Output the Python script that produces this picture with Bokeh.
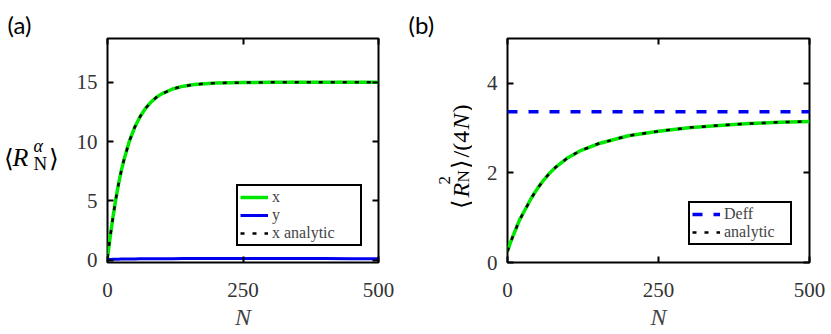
import math
from bokeh.plotting import figure
from bokeh.layouts import row
from bokeh.models import LinearAxis, Legend, LegendItem, Range1d, FixedTicker, Title
from bokeh.core.properties import value
from bokeh.embed import file_html
from bokeh.resources import INLINE

# ---------------- data ----------------
# panel (a)
N_a = [0, 5, 10, 15, 20, 25, 30, 40, 50, 60, 70, 80, 90, 100, 120, 140, 160, 180, 200,
       250, 300, 350, 400, 450, 500]
x_sim = [0.2, 2.0, 3.6, 5.05, 6.33, 7.44, 8.4, 9.99, 11.19, 12.1, 12.8, 13.32, 13.73, 14.03,
         14.44, 14.68, 14.81, 14.89, 14.94, 14.98, 15.0, 15.0, 15.0, 15.0, 15.0]
y_sim = [0.05, 0.06, 0.07, 0.08, 0.08, 0.09, 0.09, 0.10, 0.10, 0.11, 0.11, 0.11, 0.12, 0.12,
         0.12, 0.13, 0.13, 0.13, 0.13, 0.14, 0.14, 0.13, 0.13, 0.12, 0.12]
x_analytic = [0.2, 2.0, 3.6, 5.05, 6.33, 7.44, 8.4, 9.99, 11.19, 12.1, 12.8, 13.32, 13.73, 14.03,
              14.44, 14.68, 14.81, 14.89, 14.94, 14.98, 15.0, 15.0, 15.0, 15.0, 15.0]
xticks_a = [0, 250, 500]
yticks_a = [0, 5, 10, 15]

# panel (b)
N_b = [0, 5, 10, 20, 30, 40, 50, 60, 70, 80, 100, 120, 150, 200, 250, 300, 350, 400, 450, 500]
r2_sim = [0.25, 0.45, 0.62, 0.95, 1.20, 1.45, 1.66, 1.84, 2.00, 2.13, 2.34, 2.49, 2.65, 2.83,
          2.93, 3.01, 3.06, 3.10, 3.13, 3.15]
r2_analytic = [0.25, 0.45, 0.62, 0.95, 1.20, 1.45, 1.66, 1.84, 2.00, 2.13, 2.34, 2.49, 2.65, 2.83,
               2.93, 3.01, 3.06, 3.10, 3.13, 3.15]
N_deff = [0, 500]
D_eff = [3.365, 3.365]
xticks_b = [0, 250, 500]
yticks_b = [0, 2, 4]

GREEN = "#00e800"
BLUE = "#0000f0"
SERIF = "Liberation Serif"
SANS = "Lato"
H = 334
TOP, BOTTOM = 38, 72          # frame borders shared by all plots of the row


def style(p, xt, yt):
    p.xgrid.visible = False
    p.ygrid.visible = False
    p.outline_line_color = "black"
    p.outline_line_width = 2
    for ax in (p.xaxis[0], p.yaxis[0]):
        ax.axis_line_color = None
        ax.major_tick_in = 6
        ax.major_tick_out = 0
        ax.major_tick_line_width = 2
        ax.minor_tick_line_color = None
        ax.major_label_text_font = SERIF
        ax.major_label_text_font_size = "21px"
        ax.major_label_text_color = "#333333"
    p.xaxis[0].ticker = FixedTicker(ticks=xt)
    p.yaxis[0].ticker = FixedTicker(ticks=yt)
    p.xaxis[0].major_label_standoff = 20
    p.yaxis[0].major_label_standoff = 10
    p.xaxis[0].axis_label = "N"
    p.xaxis[0].axis_label_text_font = SERIF
    p.xaxis[0].axis_label_text_font_style = "italic"
    p.xaxis[0].axis_label_text_font_size = "24px"
    p.xaxis[0].axis_label_standoff = 4
    # mirrored ticks on the right and on top
    for loc, t in (("right", yt), ("above", xt)):
        ax = LinearAxis(ticker=FixedTicker(ticks=t),
                        major_label_overrides={v: "" for v in t})
        ax.axis_line_color = None
        ax.major_tick_in = 6
        ax.major_tick_out = 0
        ax.major_tick_line_width = 2
        ax.minor_tick_line_color = None
        ax.major_label_text_font_size = "1px"
        ax.major_label_standoff = 0
        p.add_layout(ax, loc)


def label_fig(w, tag, offset):
    # the row aligns this plot's frame with the panels' frames (page y TOP .. H-BOTTOM);
    # its y range is set so that a data y equals (H - page y)
    f = figure(width=w, height=H, x_range=Range1d(0, w), y_range=Range1d(BOTTOM, H - TOP),
               output_backend="svg", toolbar_location=None, title=None,
               min_border_left=0, min_border_right=0,
               min_border_top=TOP, min_border_bottom=BOTTOM,
               x_axis_type=None, y_axis_type=None)
    f.xgrid.visible = False
    f.ygrid.visible = False
    f.outline_line_color = None
    f.add_layout(Title(text=tag, align="left", offset=offset, text_font=SANS,
                       text_font_size="24px", text_font_style="normal",
                       text_color="black", standoff=0, vertical_align="bottom"), "above")
    return f


def add_text(f, x, py, txt, size, font=SERIF, style_="normal", angle=0.0, color="black"):
    # py is measured from the top of the picture
    f.text(x=[x], y=[H - py], text=[txt], text_font=value(font),
           text_font_style=value(style_),
           text_font_size=value(f"{size}px"), text_align="left", text_baseline="alphabetic",
           angle=angle, text_color=color)


def legend(items, margin, lw):
    return Legend(items=items, location="bottom_right", margin=margin, padding=2, spacing=0,
                  label_text_font=SERIF, label_text_font_size="16px", label_height=16,
                  label_width=lw, glyph_width=28, glyph_height=16, label_standoff=4,
                  border_line_color="black", border_line_width=2, border_line_alpha=1.0,
                  background_fill_alpha=1.0)


# ---------------- label column for (a) ----------------
la = label_fig(60, "(a)", 7)
add_text(la, 3, 158, "\u27e8", 25)
add_text(la, 12, 157, "R", 26, style_="italic")
add_text(la, 33, 145, "\u03b1", 18, style_="italic")
add_text(la, 33, 163, "N", 19)
add_text(la, 48, 158, "\u27e9", 25)

# ---------------- panel (a) ----------------
pa = figure(width=348, height=H, x_range=Range1d(0, 500), y_range=Range1d(-0.2, 18.7),
            output_backend="svg", toolbar_location=None,
            min_border_left=47, min_border_right=30, min_border_top=TOP, min_border_bottom=BOTTOM)
style(pa, xticks_a, yticks_a)

ga = pa.line(N_a, x_sim, line_color=GREEN, line_width=3.5)
ba = pa.line(N_a, y_sim, line_color=BLUE, line_width=3)
ka = pa.line(N_a, x_analytic, line_color="black", line_width=2.5, line_dash="4 8")

pa.add_layout(legend([LegendItem(label="x", renderers=[ga]),
                      LegendItem(label="y", renderers=[ba]),
                      LegendItem(label="x analytic", renderers=[ka])], 16, 86))

# ---------------- label column for (b) ----------------
lb = label_fig(64, "(b)", 0)
A = math.pi / 2
bx = 52
add_text(lb, bx, 208, "\u27e8", 24, angle=A)
add_text(lb, bx, 197, "R", 24, style_="italic", angle=A)
add_text(lb, bx - 16, 184, "2", 17, angle=A)
add_text(lb, bx + 3, 182, "N", 17, angle=A)
add_text(lb, bx, 168, "\u27e9", 24, angle=A)
add_text(lb, bx, 157, "/(4", 24, angle=A)
add_text(lb, bx, 129, "N", 24, style_="italic", angle=A)
add_text(lb, bx, 112, ")", 24, angle=A)

# ---------------- panel (b) ----------------
pb = figure(width=358, height=H, x_range=Range1d(0, 500), y_range=Range1d(0, 5),
            output_backend="svg", toolbar_location=None,
            min_border_left=35, min_border_right=21, min_border_top=TOP, min_border_bottom=BOTTOM)
style(pb, xticks_b, yticks_b)

gb = pb.line(N_b, r2_sim, line_color=GREEN, line_width=3.5)
kb = pb.line(N_b, r2_analytic, line_color="black", line_width=2.5, line_dash="4 8")
db = pb.line(N_deff, D_eff, line_color=BLUE, line_width=3.5, line_dash="10 11")

pb.add_layout(legend([LegendItem(label="Deff", renderers=[db]),
                      LegendItem(label="analytic", renderers=[kb])], 17, 64))

layout = row(la, pa, lb, pb)
open("out.html", "w").write(file_html(layout, INLINE))
